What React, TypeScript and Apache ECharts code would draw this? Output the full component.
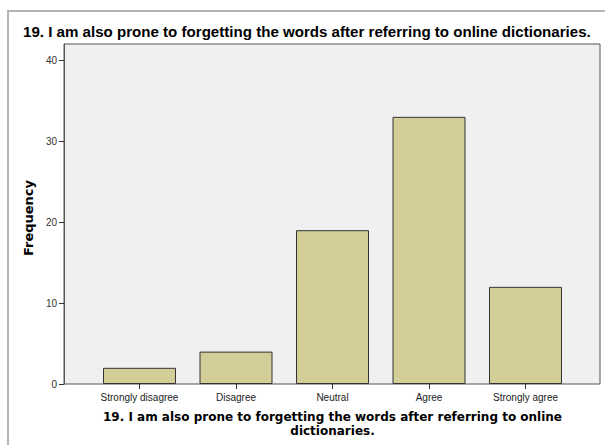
import React, { useEffect, useRef } from "react";
import * as echarts from "echarts";

const categories = ["Strongly disagree", "Disagree", "Neutral", "Agree", "Strongly agree"];
const frequencies = [2, 4, 19, 33, 12];
const yTicks = [0, 10, 20, 30, 40];
const titleText = "19. I am also prone to forgetting the words after referring to online dictionaries.";
const xAxisTitle = "19. I am also prone to forgetting the words after referring to online\ndictionaries.";
const yAxisTitle = "Frequency";

const FONT = "'Liberation Sans', Arial, sans-serif";
const BOLD_FONT = "'DejaVu Sans', 'Liberation Sans', sans-serif";

export default function App() {
  const ref = useRef<HTMLDivElement>(null);
  useEffect(() => {
    if (!ref.current) return;
    const chart = echarts.init(ref.current, undefined, { renderer: "svg" });
    chart.setOption({
      animation: false,
      backgroundColor: "#ffffff",
      textStyle: { fontFamily: FONT },
      title: {
        text: titleText,
        left: 23,
        top: 24,
        padding: 0,
        textStyle: { fontFamily: FONT, fontSize: 15.1, fontWeight: "bold", color: "#000" },
      },
      graphic: [
        {
          type: "rect",
          shape: { x: 8, y: 11, width: 640, height: 480 },
          style: { fill: "none", stroke: "#b4b4b4", lineWidth: 2 },
          z: 0,
        },
      ],
      grid: [
        {
          left: 64,
          top: 44,
          width: 536,
          height: 340,
          show: true,
          backgroundColor: "#f0f0f0",
          borderColor: "#555555",
          borderWidth: 1,
        },
        {
          left: 91.25,
          top: 44,
          width: 482.5,
          height: 340,
        },
      ],
      xAxis: [
        { type: "value", gridIndex: 0, min: 0, max: 1, show: false },
        {
          type: "category",
          gridIndex: 1,
          data: categories,
          axisLine: { show: false },
          axisTick: { show: true, alignWithLabel: true, length: 5, lineStyle: { color: "#333" } },
          axisLabel: { fontSize: 10, color: "#222", margin: 8, fontFamily: FONT, interval: 0 },
          splitLine: { show: false },
          name: xAxisTitle,
          nameLocation: "middle",
          nameGap: 26,
          nameTextStyle: { fontFamily: BOLD_FONT, fontSize: 12, fontWeight: "bold", color: "#000", lineHeight: 14 },
        },
      ],
      yAxis: [
        {
          type: "value",
          gridIndex: 0,
          min: 0,
          max: 42,
          interval: 10,
          axisLine: { show: true, lineStyle: { color: "#555555" } },
          axisTick: { show: true, length: 5, customValues: yTicks, lineStyle: { color: "#333" } },
          axisLabel: { fontSize: 10, color: "#333", margin: 7, fontFamily: FONT, customValues: yTicks },
          splitLine: { show: false },
          name: yAxisTitle,
          nameLocation: "middle",
          nameGap: 27,
          nameTextStyle: { fontFamily: BOLD_FONT, fontSize: 13, fontWeight: "bold", color: "#000", padding: [0, 8, 0, 0] },
        },
        { type: "value", gridIndex: 1, min: 0, max: 42, show: false },
      ],
      series: [
        {
          type: "bar",
          xAxisIndex: 1,
          yAxisIndex: 1,
          data: frequencies,
          barWidth: 73,
          itemStyle: { color: "#d3ce97", borderColor: "#333333", borderWidth: 1 },
        },
      ],
    });
    return () => chart.dispose();
  }, []);
  return (
    <div style={{ position: "fixed", left: 0, top: 0, width: 605, height: 445 }}>
      <div ref={ref} style={{ width: 605, height: 445 }} />
    </div>
  );
}
